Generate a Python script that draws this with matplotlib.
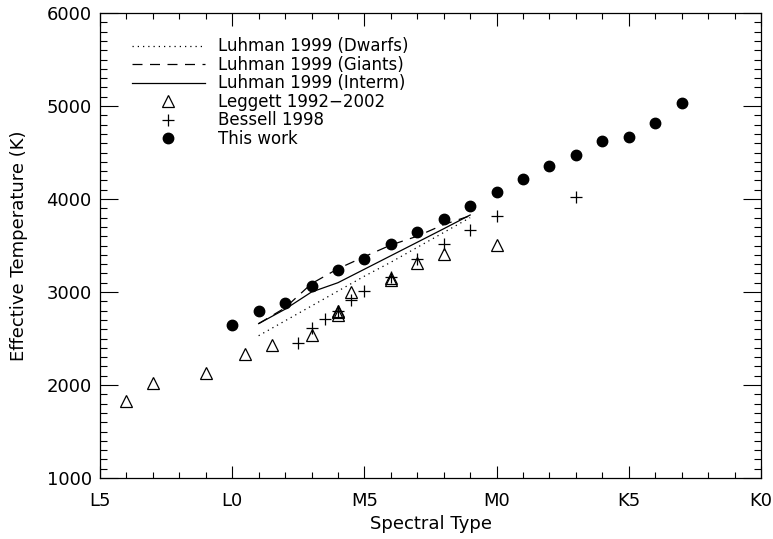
import matplotlib
matplotlib.use("Agg")
import matplotlib.pyplot as plt
from matplotlib.ticker import MultipleLocator, FixedLocator, FixedFormatter

# Numeric spectral type: K0 = 0, K5 = 5, M0 = 10, M5 = 15, L0 = 20, L5 = 25
tick_pos = [25, 20, 15, 10, 5, 0]
tick_lbl = ["L5", "L0", "M5", "M0", "K5", "K0"]

# Luhman (1999) temperature scales, M9 ... M1
luhman_spt = [19, 18, 17, 16, 15, 14, 13, 12, 11]
luhman_dwarfs = [2530, 2690, 2850, 3010, 3170, 3320, 3480, 3640, 3800]
luhman_giants = [2660, 2830, 3090, 3250, 3380, 3505, 3600, 3725, 3820]
luhman_interm = [2660, 2815, 3000, 3100, 3245, 3390, 3535, 3680, 3828]

# Leggett et al. 1992-2002
leggett_spt = [24, 23, 21, 19.5, 18.5, 17, 16, 16, 16, 15.5, 14, 14, 13, 12, 10]
leggett_teff = [1830, 2020, 2125, 2330, 2430, 2540, 2750, 2780, 2800, 3000,
                3130, 3155, 3315, 3410, 3510]

# Bessell 1998
bessell_spt = [17.5, 17, 16.5, 16, 15.5, 15, 14, 13, 12, 11, 10, 7]
bessell_teff = [2455, 2615, 2705, 2795, 2915, 3010, 3165, 3360, 3515, 3665,
                3815, 4020]

# This work
work_spt = [20, 19, 18, 17, 16, 15, 14, 13, 12, 11, 10, 9, 8, 7, 6, 5, 4, 3]
work_teff = [2650, 2800, 2880, 3060, 3240, 3360, 3520, 3640, 3790, 3920,
             4070, 4220, 4350, 4470, 4620, 4670, 4820, 5030]

plt.rcParams["font.family"] = ["DejaVu Sans"]

fig = plt.figure(figsize=(7.73, 5.39), dpi=100)
ax = fig.add_axes([100 / 773, 61 / 539, 661 / 773, 465 / 539])

lw = 0.9
ax.plot(luhman_spt, luhman_dwarfs, color="black", lw=lw,
        linestyle=(0, (1, 3.2)), label="Luhman 1999 (Dwarfs)")
ax.plot(luhman_spt, luhman_giants, color="black", lw=lw,
        linestyle=(0, (8, 6)), label="Luhman 1999 (Giants)")
ax.plot(luhman_spt, luhman_interm, color="black", lw=lw,
        linestyle="-", label="Luhman 1999 (Interm)")
ax.plot(leggett_spt, leggett_teff, linestyle="none", marker="^", ms=8.5,
        mfc="none", mec="black", mew=0.9, label="Leggett 1992\u22122002")
ax.plot(bessell_spt, bessell_teff, linestyle="none", marker="+", ms=9,
        mec="black", mew=0.9, label="Bessell 1998")
ax.plot(work_spt, work_teff, linestyle="none", marker="o", ms=7.5,
        mfc="black", mec="black", label="This work")

ax.set_xlim(25, 0)
ax.set_ylim(1000, 6000)

ax.xaxis.set_major_locator(FixedLocator(tick_pos))
ax.xaxis.set_major_formatter(FixedFormatter(tick_lbl))
ax.xaxis.set_minor_locator(MultipleLocator(1))
ax.yaxis.set_major_locator(MultipleLocator(1000))
ax.yaxis.set_minor_locator(MultipleLocator(100))

ax.tick_params(which="both", direction="in", top=True, right=True,
               width=0.8, labelsize=13, colors="black")
ax.tick_params(axis="x", which="major", length=9, pad=10)
ax.tick_params(axis="x", which="minor", length=4)
ax.tick_params(axis="y", which="major", length=13, pad=6)
ax.tick_params(axis="y", which="minor", length=5)
for sp in ax.spines.values():
    sp.set_linewidth(0.9)

ax.set_xlabel("Spectral Type", fontsize=13, labelpad=4)
ax.set_ylabel("Effective Temperature (K)", fontsize=13, labelpad=13)

leg = ax.legend(loc="upper left", frameon=False, fontsize=12,
                handlelength=4.4, handletextpad=0.8, labelspacing=0.03,
                borderaxespad=0, bbox_to_anchor=(0.038, 0.962))

fig.savefig("out.png", dpi=100)
